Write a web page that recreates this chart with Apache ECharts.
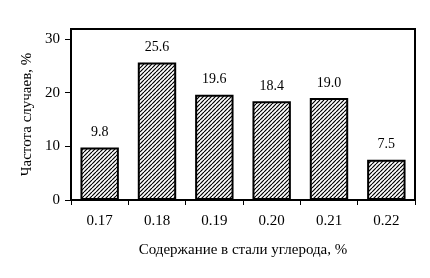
<!DOCTYPE html>
<html><head><meta charset="utf-8">
<script src="https://cdn.jsdelivr.net/npm/echarts@6/dist/echarts.min.js"></script>
<style>html,body{margin:0;padding:0;background:#fff}#c{width:430px;height:278px}</style>
</head><body><div id="c"></div>
<script>
const categories = ['0.17','0.18','0.19','0.20','0.21','0.22'];
const values = [9.8, 25.6, 19.6, 18.4, 19.0, 7.5];
const yTicks = [0, 10, 20, 30];
const yName = 'Частота случаев, %';
const xName = 'Содержание в стали углерода, %';

function hatch() {
  const c = document.createElement('canvas');
  c.width = 4; c.height = 4;
  const g = c.getContext('2d');
  g.fillStyle = '#fff'; g.fillRect(0,0,4,4);
  g.strokeStyle = '#000'; g.lineWidth = 1.2;
  for (let k = -8; k <= 8; k += 4) {
    g.beginPath(); g.moveTo(k, 4); g.lineTo(k + 4, 0); g.stroke();
  }
  return c;
}
const font = 'Liberation Serif';
const chart = echarts.init(document.getElementById('c'));
chart.setOption({
  animation: false,
  grid: {left: 71, right: 15, top: 29, bottom: 78, show: true, borderColor: '#000', borderWidth: 2},
  xAxis: {
    type: 'category', data: categories,
    axisLine: {lineStyle: {color: '#000', width: 2}},
    axisTick: {show: true, length: 5, lineStyle: {color: '#000', width: 1}},
    axisLabel: {color: '#000', fontFamily: font, fontSize: 15, margin: 14},
    name: xName, nameLocation: 'middle', nameGap: 43,
    nameTextStyle: {color: '#000', fontFamily: font, fontSize: 15}
  },
  yAxis: {
    type: 'value', min: 0, max: 31.85,
    splitLine: {show: false},
    axisLine: {show: true, lineStyle: {color: '#000', width: 2}},
    axisTick: {show: true, length: 6, lineStyle: {color: '#000', width: 1}, customValues: yTicks},
    axisLabel: {color: '#000', fontFamily: font, fontSize: 15, margin: 11, customValues: yTicks},
    name: yName, nameLocation: 'middle', nameGap: 36,
    nameTextStyle: {color: '#000', fontFamily: font, fontSize: 15}
  },
  series: [{
    type: 'bar', data: values, barCategoryGap: '33%',
    itemStyle: {color: {image: hatch(), repeat: 'repeat'}, borderColor: '#000', borderWidth: 2},
    label: {show: true, position: 'top', distance: 8, color: '#000', fontFamily: font, fontSize: 14,
      formatter: p => p.value.toFixed(1)}
  }]
});
</script></body></html>
